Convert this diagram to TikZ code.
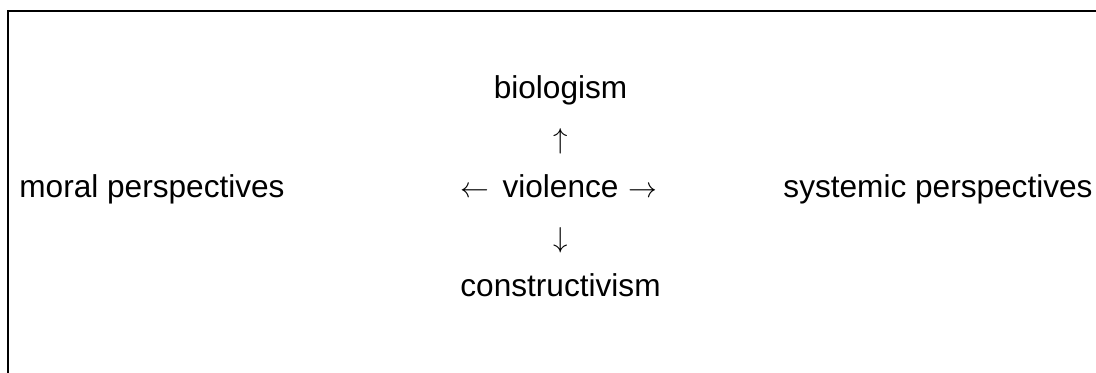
\documentclass[tikz,border=0pt]{standalone}
\usepackage{fontspec}
\setmainfont{Liberation Sans}
\begin{document}
\begin{tikzpicture}[
       x=0.5pt, y=-0.5pt,
       node distance=24.75pt,
       term/.style={inner sep=0pt, text height=11.5pt, text depth=3.5pt, font=\fontsize{15.8}{19}\selectfont},
       sign/.style={inner sep=0pt, text height=11.5pt, text depth=3.5pt, font=\fontsize{13.5}{16}\selectfont},
       frame/.style={draw=black, line width=1pt}
   ]
   \useasboundingbox (0,0) rectangle (1096,372);
   \draw[frame] (7.7,400) |- (1120,11);
   \node[term] (violence) at (560.5,189.5) {violence};
   \node[sign, above of=violence] (up) {$\uparrow$};
   \node[term, above of=up] (bio) {biologism};
   \node[sign, below of=violence] (down) {$\downarrow$};
   \node[term, below of=down] (con) {constructivism};
   \node[sign, left of=violence, node distance=43pt] (left) {$\leftarrow$};
   \node[sign, right of=violence, node distance=41pt] (right) {$\rightarrow$};
   \node[term] (moral) at (152,189.5) {moral perspectives};
   \node[term] (systemic) at (938,189.5) {systemic perspectives};
\end{tikzpicture}
\end{document}
